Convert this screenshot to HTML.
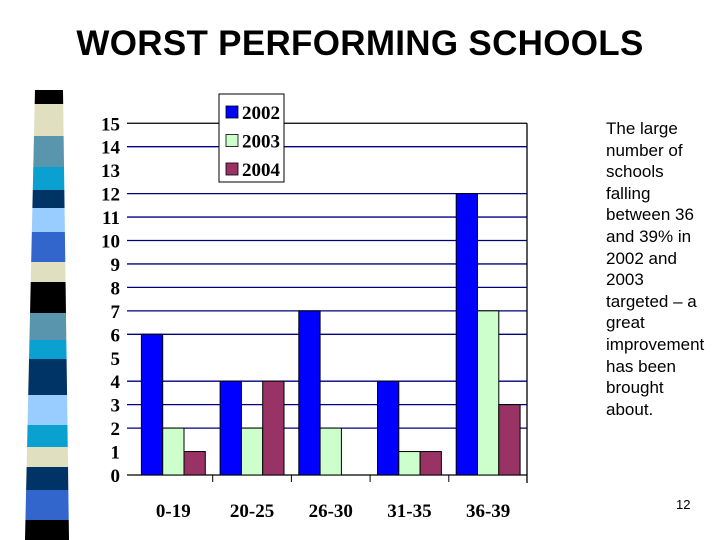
<!DOCTYPE html>
<html><head><meta charset="utf-8"><style>
body{margin:0;width:720px;height:540px;background:#fff;overflow:hidden;position:relative;font-family:"Liberation Sans",sans-serif}
#title{position:absolute;left:0;width:720px;top:24px;text-align:center;font-weight:bold;font-size:35px;color:#000;letter-spacing:0.3px}
#note{position:absolute;left:606px;top:118px;font-size:17px;line-height:21.6px;color:#000}
#pg{position:absolute;left:676px;top:497px;font-size:13px}
svg{position:absolute;left:0;top:0}
</style></head><body>
<div id="title">WORST PERFORMING SCHOOLS</div>
<div id="note">The large<br>number of<br>schools<br>falling<br>between 36<br>and 39% in<br>2002 and<br>2003<br>targeted – a<br>great<br>improvement<br>has been<br>brought<br>about.</div>
<div id="pg">12</div>
<svg id="chart" width="720" height="540"></svg>
<script>
const categories=["0-19","20-25","26-30","31-35","36-39"];
const series2002=[6,4,7,4,12];
const series2003=[2,2,2,1,7];
const series2004=[1,4,0,1,3];
const seriesNames=["2002","2003","2004"];
const yTicks=[0,1,2,3,4,5,6,7,8,9,10,11,12,13,14,15];
const gridValues=[2,3,4,6,7,8,9,10,11,12,14];
const colors=["#0000ff","#ccffcc","#993366"];
const NS="http://www.w3.org/2000/svg";
const svg=document.getElementById('chart');
function mk(t,a,p){const e=document.createElementNS(NS,t);for(const k in a)e.setAttribute(k,a[k]);(p||svg).appendChild(e);return e;}
const bands=[[90,104,"#000"],[104,136,"#e0e0c0"],[136,167,"#5a95ae"],[167,190,"#0aa0d0"],[190,208,"#003366"],[208,232,"#99ccff"],[232,262,"#3366cc"],[262,282,"#e0e0c0"],[282,313,"#000"],[313,340,"#5a95ae"],[340,359,"#0aa0d0"],[359,395,"#003366"],[395,425,"#99ccff"],[425,447,"#0aa0d0"],[447,467,"#e0e0c0"],[467,490,"#003366"],[490,520,"#3366cc"],[520,540,"#000"]];
const stripe=mk('g',{});


function sx(y){const t=(y-90)/450;return [35-t*10,63+t*6];}
bands.forEach(b=>{const a=sx(b[0]),c=sx(b[1]);mk('polygon',{points:`${a[0]},${b[0]} ${a[1]},${b[0]} ${c[1]},${b[1]} ${c[0]},${b[1]}`,fill:b[2]},stripe);});
const x0=134,step=78.7,y0=475,unit=23.45,xR=527;
const yS=v=>y0-v*unit;
const xC=i=>x0+step*(i+0.5);
const grid=mk('g',{});


gridValues.forEach(v=>mk('line',{x1:127,x2:xR,y1:yS(v),y2:yS(v),stroke:"#000080","stroke-width":1.3},grid));
mk('line',{x1:127,x2:xR,y1:yS(15),y2:yS(15),stroke:"#000","stroke-width":1.3});
mk('line',{x1:xR,x2:xR,y1:yS(15),y2:y0+8,stroke:"#000","stroke-width":1.3});
mk('line',{x1:127,x2:xR,y1:y0,y2:y0,stroke:"#000","stroke-width":1.3});
for(let i=1;i<categories.length;i++)mk('line',{x1:x0+step*i,x2:x0+step*i,y1:y0,y2:y0+7,stroke:"#000"});
yTicks.forEach(v=>{const t=mk('text',{x:120,y:yS(v)+7,"text-anchor":"end","font-family":"Liberation Serif, serif","font-weight":"bold","font-size":19});t.textContent=v;

});
const bw=21.3;
[series2002,series2003,series2004].forEach((s,si)=>{s.forEach((v,i)=>{if(v<=0)return;const r=mk('rect',{x:xC(i)-1.5*bw+si*bw,y:yS(v),width:bw,height:v*unit,fill:colors[si],stroke:"#000","stroke-width":1});

});});
categories.forEach((c,i)=>{const t=mk('text',{x:xC(i),y:517,"text-anchor":"middle","font-family":"Liberation Serif, serif","font-weight":"bold","font-size":19});t.textContent=c;

});
const lg=mk('g',{});


mk('rect',{x:219,y:94,width:65,height:88,fill:"#fff",stroke:"#000","stroke-width":1},lg);
seriesNames.forEach((n,i)=>{const cy=112+28.5*i;mk('rect',{x:226,y:cy-6,width:12,height:12,fill:colors[i],stroke:"#000","stroke-width":0.8},lg);const t=mk('text',{x:242,y:cy+7,"font-family":"Liberation Serif, serif","font-weight":"bold","font-size":19},lg);t.textContent=n;

});
</script>
</body></html>
